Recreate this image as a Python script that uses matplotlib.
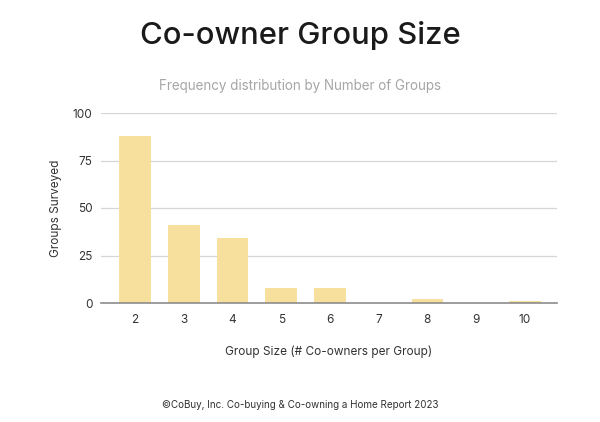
import matplotlib.pyplot as plt

# Data
group_sizes = ['2', '3', '4', '5', '6', '7', '8', '9', '10']
groups_surveyed = [88, 41, 34, 8, 8, 0, 2, 0, 1]
y_ticks = [0, 25, 50, 75, 100]

plt.rcParams['font.family'] = ['Inter', 'DejaVu Sans']

fig = plt.figure(figsize=(6, 4.22), dpi=100)
ax = fig.add_axes([101 / 600, 1 - 303 / 422, 456 / 600, 190 / 422])

x = list(range(len(group_sizes)))
ax.bar(x, groups_surveyed, width=0.65, color='#f7df9e', zorder=2)

ax.set_xlim(-0.7, len(group_sizes) - 1 + 0.66)
ax.set_ylim(0, 100)
ax.set_xticks(x)
ax.set_xticklabels(group_sizes)
ax.set_yticks(y_ticks)
ax.grid(axis='y', color='#d6d6d6', linewidth=0.9, zorder=0)
ax.tick_params(axis='both', length=0, labelsize=8.5, colors='#333333')
ax.tick_params(axis='x', pad=8)
ax.tick_params(axis='y', pad=6)
for side in ['top', 'right', 'left']:
    ax.spines[side].set_visible(False)
ax.spines['bottom'].set_color('#8c8c8c')
ax.spines['bottom'].set_linewidth(1.2)

ax.set_ylabel('Groups Surveyed', fontsize=8.5, color='#333333', labelpad=8)
ax.set_xlabel('Group Size (# Co-owners per Group)', fontsize=8.5, color='#333333', labelpad=14)

fig.text(0.5, 1 - 36 / 422, 'Co-owner Group Size', ha='center', va='center',
         fontsize=22.3, fontweight='medium', color='#1a1a1a')
fig.text(0.5, 1 - 86 / 422, 'Frequency distribution by Number of Groups', ha='center',
         va='center', fontsize=9.7, color='#a6a6a6')
fig.text(0.5, 1 - 405 / 422, '©CoBuy, Inc. Co-buying & Co-owning a Home Report 2023',
         ha='center', va='center', fontsize=7.1, color='#333333')

plt.savefig('out.png', dpi=100)
